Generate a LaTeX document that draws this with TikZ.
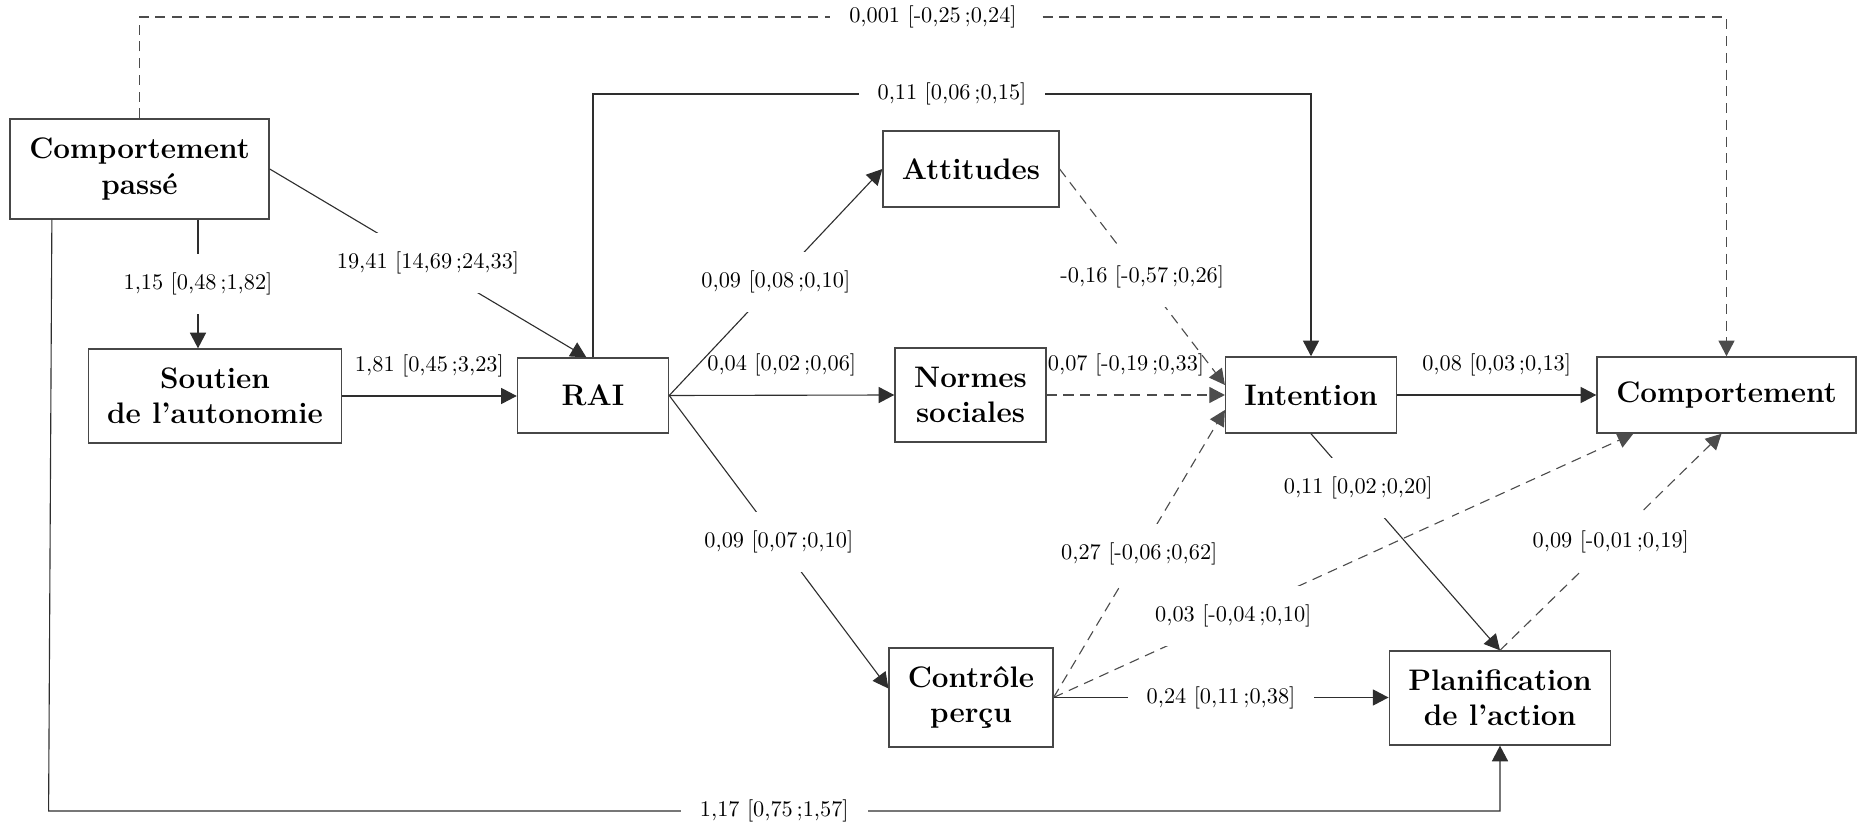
\documentclass[tikz,border=0pt]{standalone}
\usetikzlibrary{arrows.meta,calc}
\begin{document}
\begin{tikzpicture}[x=0.01574cm,y=-0.01574cm,
  box/.style={draw=black!72, line width=0.6pt, align=center, inner sep=0pt,
    font=\fontsize{13.3}{15.8}\selectfont\bfseries},
  lbl/.style={font=\fontsize{10}{12}\selectfont, fill=white, inner sep=8.5pt},
  lblab/.style={font=\fontsize{10}{12}\selectfont, inner sep=0pt, yshift=13.4pt},
  conn/.style={draw=black!82, line width=0.5pt, -{Triangle[length=7pt,width=7.2pt]}},
  dconn/.style={conn, draw=black!70, dash pattern=on 4.5pt off 3pt},
]
\useasboundingbox (0,0) rectangle (1858,826);

% nodes
\node[box, minimum width=4.08cm, minimum height=1.574cm] (cp) at (139.5,169) {Comportement\\pass\'e};
\node[box, minimum width=3.98cm, minimum height=1.48cm] (sout) at (215,396) {Soutien\\de l’autonomie};
\node[box, minimum width=2.38cm, minimum height=1.18cm] (rai) at (593,395.5) {RAI};
\node[box, minimum width=2.77cm, minimum height=1.20cm] (att) at (971,169) {Attitudes};
\node[box, minimum width=2.38cm, minimum height=1.48cm] (norm) at (970.5,395) {Normes\\sociales};
\node[box, minimum width=2.69cm, minimum height=1.20cm] (int) at (1311,395) {Intention};
\node[box, minimum width=4.08cm, minimum height=1.20cm] (comp) at (1726.5,395) {Comportement};
\node[box, minimum width=2.58cm, minimum height=1.56cm] (ctl) at (971,697.5) {Contr\^ole\\per\c{c}u};
\node[box, minimum width=3.49cm, minimum height=1.48cm] (pl) at (1500,698) {Planification\\de l’action};

% helper coordinates
\coordinate (ytop) at (0,17);
\coordinate (ymid) at (0,94);
\coordinate (ybot) at (48.6,811);
\coordinate (cpsoutstart) at ($(cp.south)+(58.5,0)$);
\coordinate (cpplstart) at ($(cp.south west)+(42.6,0)$);

% top dashed: passed behaviour -> behaviour
\draw[dconn] (cp.north) -- (cp.north |- ytop)
  -- node[lbl] (l1) {0,001 [-0,25\,;0,24]} (comp.north |- ytop) -- (comp.north);

% RAI -> Intention (top route)
\draw[conn] (rai.north) -- (rai.north |- ymid)
  -- node[lbl] (l2) {0,11 [0,06\,;0,15]} (int.north |- ymid) -- (int.north);

% passed behaviour -> planification (bottom route)
\draw[conn] (cpplstart) -- (ybot)
  -- node[lbl] (l3) {1,17 [0,75\,;1,57]} (pl.south |- ybot) -- (pl.south);

% passed behaviour -> soutien
\draw[conn] (cpsoutstart) -- node[lbl] (l4) {1,15 [0,48\,;1,82]} (cpsoutstart |- sout.north);

% passed behaviour -> RAI
\draw[conn] (cp.east) -- node[lbl] (l5) {19,41 [14,69\,;24,33]} ($(rai.north)+(-6.6,0)$);

% soutien -> RAI
\draw[conn] (sout.east) -- node[lblab] (l6) {1,81 [0,45\,;3,23]} (sout.east -| rai.west);

% RAI -> attitudes, normes, controle
\draw[conn] (rai.east) -- node[lbl] (l7) {0,09 [0,08\,;0,10]} (att.west);
\draw[conn] (rai.east) -- node[lblab] (l8) {0,04 [0,02\,;0,06]} (norm.west);
\draw[conn] (rai.east) -- node[lbl] (l9) {0,09 [0,07\,;0,10]} ($(ctl.west)+(0,-9)$);

% to intention
\draw[dconn] (att.east) -- node[lbl] (l10) {-0,16 [-0,57\,;0,26]} ($(int.west)+(0,-10)$);
\draw[dconn] (norm.east) -- node[lblab, pos=0.445] (l11) {0,07 [-0,19\,;0,33]} (int.west);
\draw[dconn] (ctl.east) -- node[lbl] (l12) {0,27 [-0,06\,;0,62]} ($(int.west)+(0,15)$);

% controle -> comportement, planification
\draw[dconn] (ctl.east) -- node[lbl, pos=0.31] (l13) {0,03 [-0,04\,;0,10]} ($(comp.south west)+(37,0)$);
\draw[conn] (ctl.east) -- node[lbl] (l14) {0,24 [0,11\,;0,38]} (ctl.east -| pl.west);

% intention -> comportement, planification
\draw[conn] (int.east) -- node[lblab] (l15) {0,08 [0,03\,;0,13]} (comp.west);
\draw[conn] (int.south) -- node[lbl, pos=0.25] (l16) {0,11 [0,02\,;0,20]} (pl.north);

% planification -> comportement
\draw[dconn] (pl.north) -- node[lbl] (l17) {0,09 [-0,01\,;0,19]} ($(comp.south)+(-5,0)$);
\end{tikzpicture}
\end{document}
